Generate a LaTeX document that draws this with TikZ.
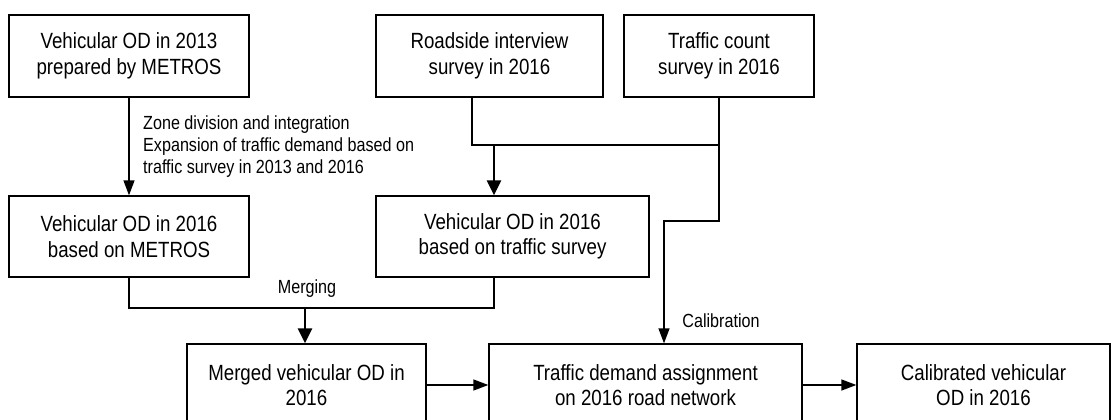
\documentclass[tikz,border=0pt]{standalone}
\usepackage{fontspec}
\setmainfont{Liberation Sans}[FakeStretch=0.85]
\usetikzlibrary{arrows.meta}
\tikzset{
	odbox/.style={draw, line width=1.3pt, inner sep=0pt, align=center,
		font=\fontsize{22}{25.5}\selectfont},
	odlabel/.style={inner sep=0pt, align=left, font=\fontsize{19}{22}\selectfont},
	tip/.style={-{Triangle[length=15pt,width=11pt]}},
	bigtip/.style={-{Triangle[length=15pt,width=14pt]}},
}

\begin{document}
\begin{tikzpicture}[x=1pt, y=-1pt]
		%%%%% START %%%%%
		\useasboundingbox (0, 0) rectangle (1111, 420);
		\clip (0, 0) rectangle (1111, 420);
		
		\node[odbox, minimum width=240pt, minimum height=82pt] (od13) at (129, 56) {Vehicular OD in 2013\\prepared by METROS};
		\node[odbox, minimum width=227pt, minimum height=82pt] (rsi) at (489.5, 56) {Roadside interview\\survey in 2016};
		\node[odbox, minimum width=190pt, minimum height=82pt] (tcs) at (719, 56) {Traffic count\\survey in 2016};
		
		\node[odbox, minimum width=240pt, minimum height=81pt] (odmet) at (129, 236.5) {Vehicular OD in 2016\\based on METROS};
		\node[odbox, minimum width=273pt, minimum height=81pt] (odsur) at (512.5, 236.5) {Vehicular OD in 2016\\based on traffic survey};
		
		\node[odbox, minimum width=239pt, minimum height=82pt] (merged) at (306.5, 385) {Merged vehicular OD in\\2016};
		\node[odbox, minimum width=313pt, minimum height=82pt] (assign) at (645.5, 385) {Traffic demand assignment\\on 2016 road network};
		\node[odbox, minimum width=253pt, minimum height=82pt] (calib) at (983.5, 385) {Calibrated vehicular\\OD in 2016};
		
		% expansion of 2013 OD
		\draw[line width=1.3pt, tip] (od13) -- (odmet);
		\node[odlabel, anchor=west] (expl) at (143, 147) {Zone division and integration\\Expansion of traffic demand based on\\traffic survey in 2013 and 2016};
		
		% surveys
		\coordinate (sj) at (719, 145);
		\coordinate (sa) at (494, 145);
		\draw[line width=1.3pt] ([xshift=-17.5pt]rsi.south) |- (sj);
		\draw[line width=2.5pt] (tcs.south) -- (sj);
		\draw[line width=2.5pt, bigtip] (sa) -- (sa |- odsur.north);
		
		% calibration
		\coordinate (cj) at (719, 221);
		\draw[line width=1.3pt, tip] (sj) -- (cj) -| ([xshift=18.5pt]assign.north);
		\node[odlabel] (callab) at (721, 321) {Calibration};
		
		% merging
		\coordinate (mj) at (305, 308);
		\draw[line width=1.3pt] (odmet.south) |- (mj) -| ([xshift=-18.5pt]odsur.south);
		\draw[line width=2.5pt, bigtip] (mj) -- (mj |- merged.north);
		\node[odlabel] (mrglab) at (307, 289) {Merging};
		
		\draw[line width=1.3pt, tip] (merged) -- (assign);
		\draw[line width=1.3pt, tip] (assign) -- (calib);
		%%%%% END %%%%%
	\end{tikzpicture}
\end{document}
